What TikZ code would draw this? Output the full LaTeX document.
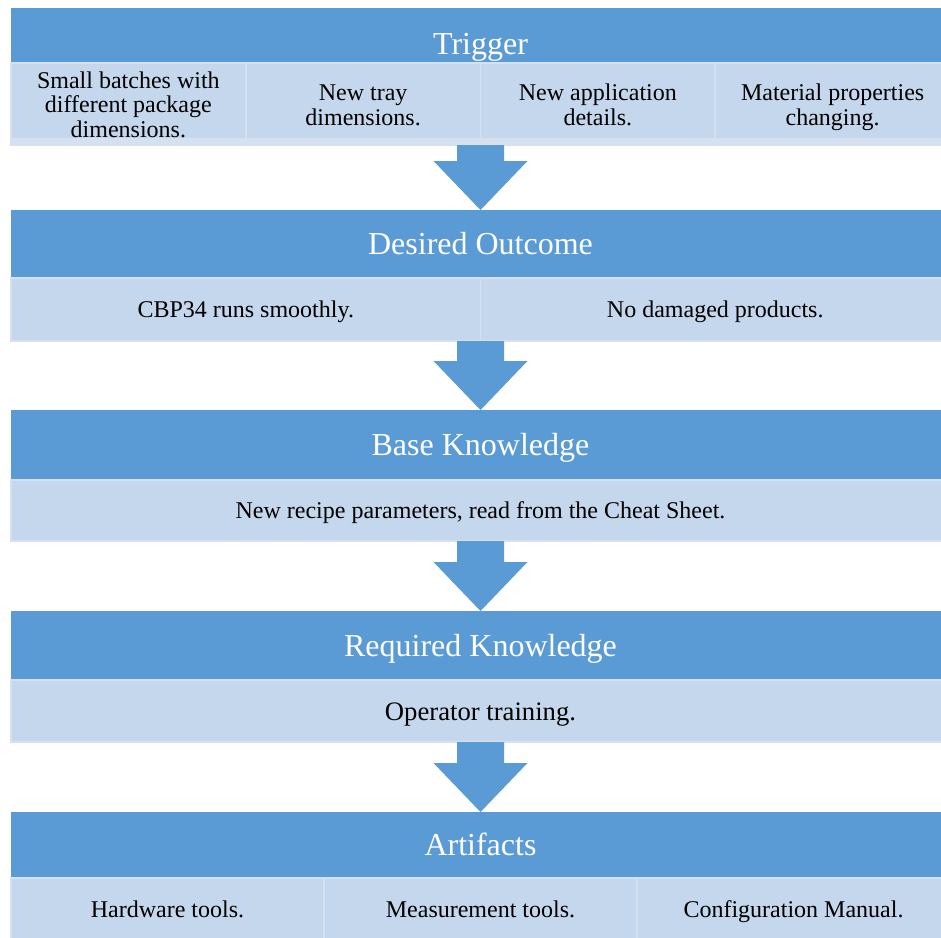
\documentclass[tikz,border=0pt]{standalone}
\usepackage{fontspec}
\setmainfont{Liberation Serif}
\usetikzlibrary{calc}
\definecolor{headblue}{HTML}{5B9BD5}
\definecolor{cellblue}{HTML}{C5D7EC}
\definecolor{celledge}{HTML}{D5E1F1}
% line strut with the font's full ascent and descent
\newcommand{\linestrut}{\rule[-0.216em]{0pt}{1.107em}}
% stacked lines on an even line pitch, set slightly low in their box
\newcommand{\stacklines}[1]{\raisebox{-4pt}[\height][\depth]{\begin{tabular}{@{}c@{}}#1\end{tabular}}}
\tikzset{
  head/.style={fill=headblue, draw=none, text=white, inner sep=0pt, outer sep=0pt,
    anchor=north west, minimum width=939pt, font=\fontsize{32}{36}\selectfont,
    execute at begin node=\linestrut},
  cell/.style={fill=cellblue, draw=celledge, line width=1.6pt, inner sep=0pt, outer sep=0pt,
    anchor=north west, align=center, text=black, font=\fontsize{24}{24.5}\selectfont,
    execute at begin node=\linestrut, execute at end node=\linestrut},
  multicell/.style={cell, execute at begin node={}, execute at end node={}},
  bigcell/.style={cell, font=\fontsize{26.67}{28}\selectfont},
  flowarrow/.style={fill=headblue, draw=none},
}
% block arrow: shaft from #1 down to the tip at #2
\newcommand{\blockarrow}[2]{%
  \fill[flowarrow] let \p1=(#1), \p2=(#2) in
    (\x1-23.5pt,\y1) -- (\x1+23.5pt,\y1) -- (\x1+23.5pt,\y2+49pt)
    -- (\x1+47pt,\y2+49pt) -- (\x2,\y2) -- (\x1-47pt,\y2+49pt)
    -- (\x1-23.5pt,\y2+49pt) -- cycle;}
\begin{document}
\begin{tikzpicture}[x=1pt,y=-1pt]
\clip (0,0) rectangle (941,937);
\fill[white] (0,0) rectangle (941,937);

% Trigger (the cells cover the lower part of the header)
\node[head, minimum height=72pt] (hTrig) at (11,8) {Trigger};
\node[multicell, minimum width=234.75pt, minimum height=82pt] (tc1) at (11,63)
  {\stacklines{Small batches with\\different package\\dimensions.}};
\node[multicell, minimum width=234.75pt, minimum height=82pt] (tc2) at (245.75,63)
  {\stacklines{New tray\\dimensions.}};
\node[multicell, minimum width=234.75pt, minimum height=82pt] (tc3) at (480.5,63)
  {\stacklines{New application\\details.}};
\node[multicell, minimum width=234.75pt, minimum height=82pt] (tc4) at (715.25,63)
  {\stacklines{Material properties\\changing.}};
\fill[celledge] ($(tc1.south west)+(-1,-7)$) rectangle (tc4.south east);

% Desired Outcome
\node[head, minimum height=68pt] (hDes) at (11,210) {Desired Outcome};
\node[cell, minimum width=469.5pt, minimum height=63pt] (dc1) at (11,278)
  {CBP34 runs smoothly.};
\node[cell, minimum width=469.5pt, minimum height=63pt] (dc2) at (480.5,278)
  {No damaged products.};

% Base Knowledge
\node[head, minimum height=70pt] (hBase) at (11,410) {Base Knowledge};
\node[cell, minimum width=939pt, minimum height=61pt] (bc) at (11,480)
  {New recipe parameters, read from the Cheat Sheet.};

% Required Knowledge
\node[head, minimum height=69pt] (hReq) at (11,611) {Required Knowledge};
\node[bigcell, minimum width=939pt, minimum height=62pt] (rc) at (11,680)
  {Operator training.};

% Artifacts
\node[head, minimum height=66pt] (hArt) at (11,812) {Artifacts};
\node[cell, minimum width=313pt, minimum height=63pt] (ac1) at (11,878)
  {Hardware tools.};
\node[cell, minimum width=313pt, minimum height=63pt] (ac2) at (324,878)
  {Measurement tools.};
\node[cell, minimum width=313pt, minimum height=63pt] (ac3) at (637,878)
  {Configuration Manual.};

% arrows between the blocks
\blockarrow{tc2.south east}{hDes.north}
\blockarrow{dc1.south east}{hBase.north}
\blockarrow{bc.south}{hReq.north}
\blockarrow{rc.south}{hArt.north}
\end{tikzpicture}
\end{document}
